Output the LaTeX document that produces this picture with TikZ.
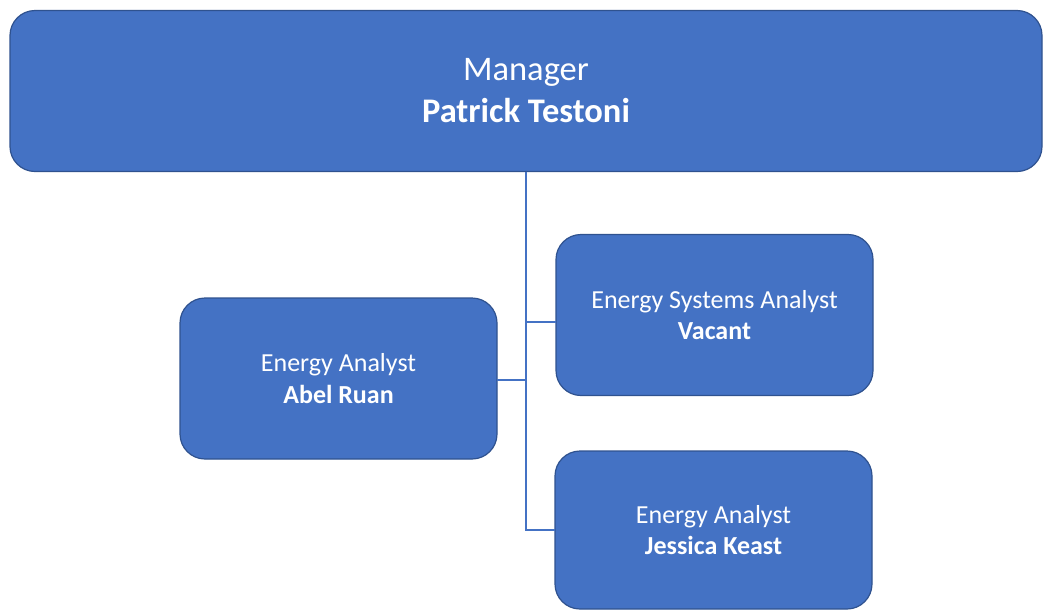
\documentclass[tikz,border=0pt]{standalone}
\usepackage{fontspec}
\setmainfont{Carlito}
\usepackage{tikz}
\usetikzlibrary{positioning}
\definecolor{officeblue}{HTML}{4472C4}
\definecolor{officeedge}{HTML}{2F528F}
\tikzset{
  rolebox/.style={draw=officeedge, fill=officeblue, line width=1.2pt, rounded corners=25pt,
    text=white, align=center, outer sep=0pt, minimum width=317pt, minimum height=161pt,
    font=\fontsize{26}{31.7}\selectfont},
  topbox/.style={rolebox, minimum width=1032pt, font=\fontsize{34.5}{42}\selectfont},
  link/.style={draw=officeblue, line width=1.2pt}
}

\begin{document}
\begin{tikzpicture}[x=1pt,y=-1pt]
    \useasboundingbox (0,0) rectangle (1043,611);
    \node[topbox] (mgr) at (526,91) {Manager\\\textbf{Patrick Testoni}};
    \node[rolebox] (abel) at (338.5,378.5) {Energy Analyst\\\textbf{Abel Ruan}};
    \node[rolebox] (esa) at (714.5,315) {Energy Systems Analyst\\\textbf{Vacant}};
    \node[rolebox, minimum height=158pt] (jess) at (713.5,530) {Energy Analyst\\\textbf{Jessica Keast}};
    \draw[link] (mgr.south) |- ([yshift=-7pt]esa.west);
    \draw[link] (mgr.south) |- (jess.west);
    \draw[link] (mgr.south) |- ([yshift=-1.5pt]abel.east);
  \end{tikzpicture}
\end{document}
